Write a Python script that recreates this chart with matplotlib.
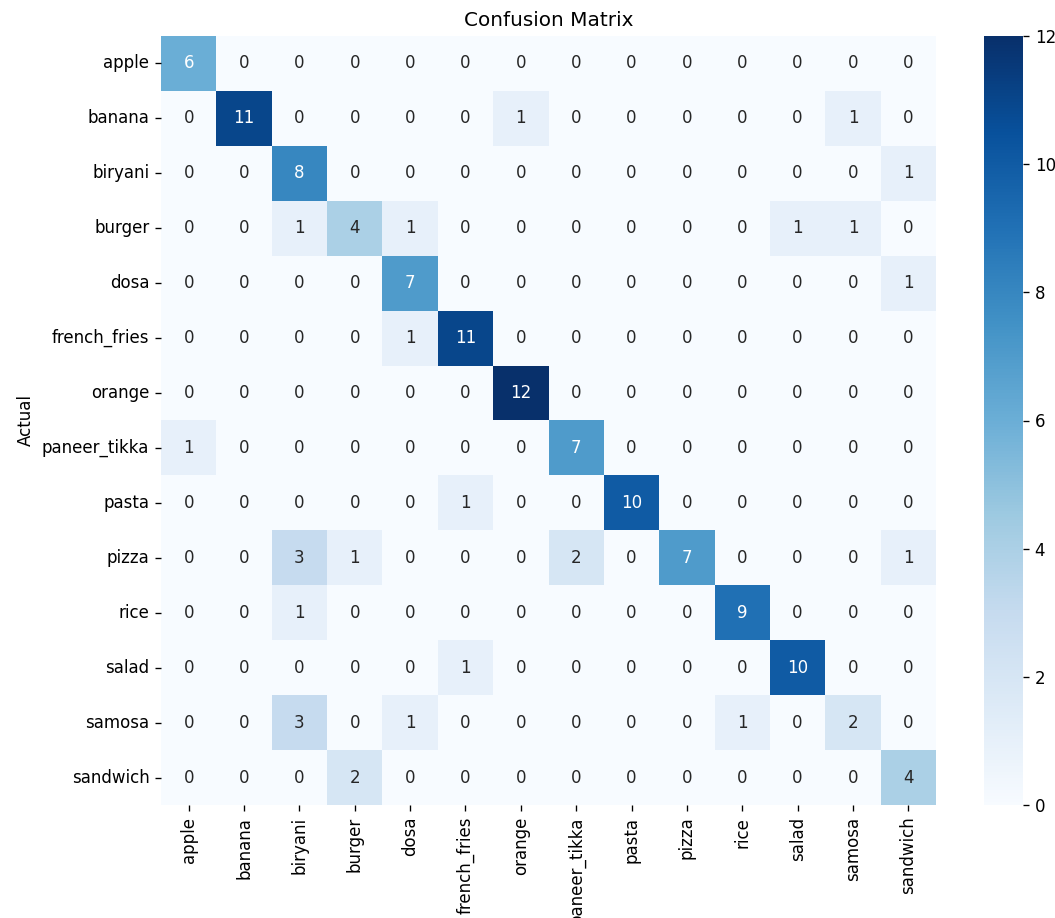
import numpy as np
import matplotlib
matplotlib.use("Agg")
from matplotlib import pyplot as plt
import seaborn as sns

classes = ['apple', 'banana', 'biryani', 'burger', 'dosa', 'french_fries', 'orange',
           'paneer_tikka', 'pasta', 'pizza', 'rice', 'salad', 'samosa', 'sandwich']

# строки - фактический класс, столбцы - предсказанный
confusion = [
    [6, 0, 0, 0, 0, 0, 0, 0, 0, 0, 0, 0, 0, 0],
    [0, 11, 0, 0, 0, 0, 1, 0, 0, 0, 0, 0, 1, 0],
    [0, 0, 8, 0, 0, 0, 0, 0, 0, 0, 0, 0, 0, 1],
    [0, 0, 1, 4, 1, 0, 0, 0, 0, 0, 0, 1, 1, 0],
    [0, 0, 0, 0, 7, 0, 0, 0, 0, 0, 0, 0, 0, 1],
    [0, 0, 0, 0, 1, 11, 0, 0, 0, 0, 0, 0, 0, 0],
    [0, 0, 0, 0, 0, 0, 12, 0, 0, 0, 0, 0, 0, 0],
    [1, 0, 0, 0, 0, 0, 0, 7, 0, 0, 0, 0, 0, 0],
    [0, 0, 0, 0, 0, 1, 0, 0, 10, 0, 0, 0, 0, 0],
    [0, 0, 3, 1, 0, 0, 0, 2, 0, 7, 0, 0, 0, 1],
    [0, 0, 1, 0, 0, 0, 0, 0, 0, 0, 9, 0, 0, 0],
    [0, 0, 0, 0, 0, 1, 0, 0, 0, 0, 0, 10, 0, 0],
    [0, 0, 3, 0, 1, 0, 0, 0, 0, 0, 1, 0, 2, 0],
    [0, 0, 0, 2, 0, 0, 0, 0, 0, 0, 0, 0, 0, 4],
]

W, H = 1055, 918
DPI = 120
fig = plt.figure(figsize=(W / DPI, H / DPI), dpi=DPI)
ax = fig.add_axes([161 / W, 1 - 805 / H, 775 / W, 769 / H])
cax = fig.add_axes([984 / W, 1 - 805 / H, 39 / W, 769 / H])

sns.heatmap(np.array(confusion), annot=True, fmt='d', cmap='Blues',
            xticklabels=classes, yticklabels=classes, ax=ax, cbar_ax=cax)

ax.set_title('Confusion Matrix')
ax.set_xlabel('Predicted')
ax.set_ylabel('Actual')
plt.setp(ax.get_xticklabels(), rotation=90)
plt.setp(ax.get_yticklabels(), rotation=0)

fig.savefig('out.png', dpi=DPI)
